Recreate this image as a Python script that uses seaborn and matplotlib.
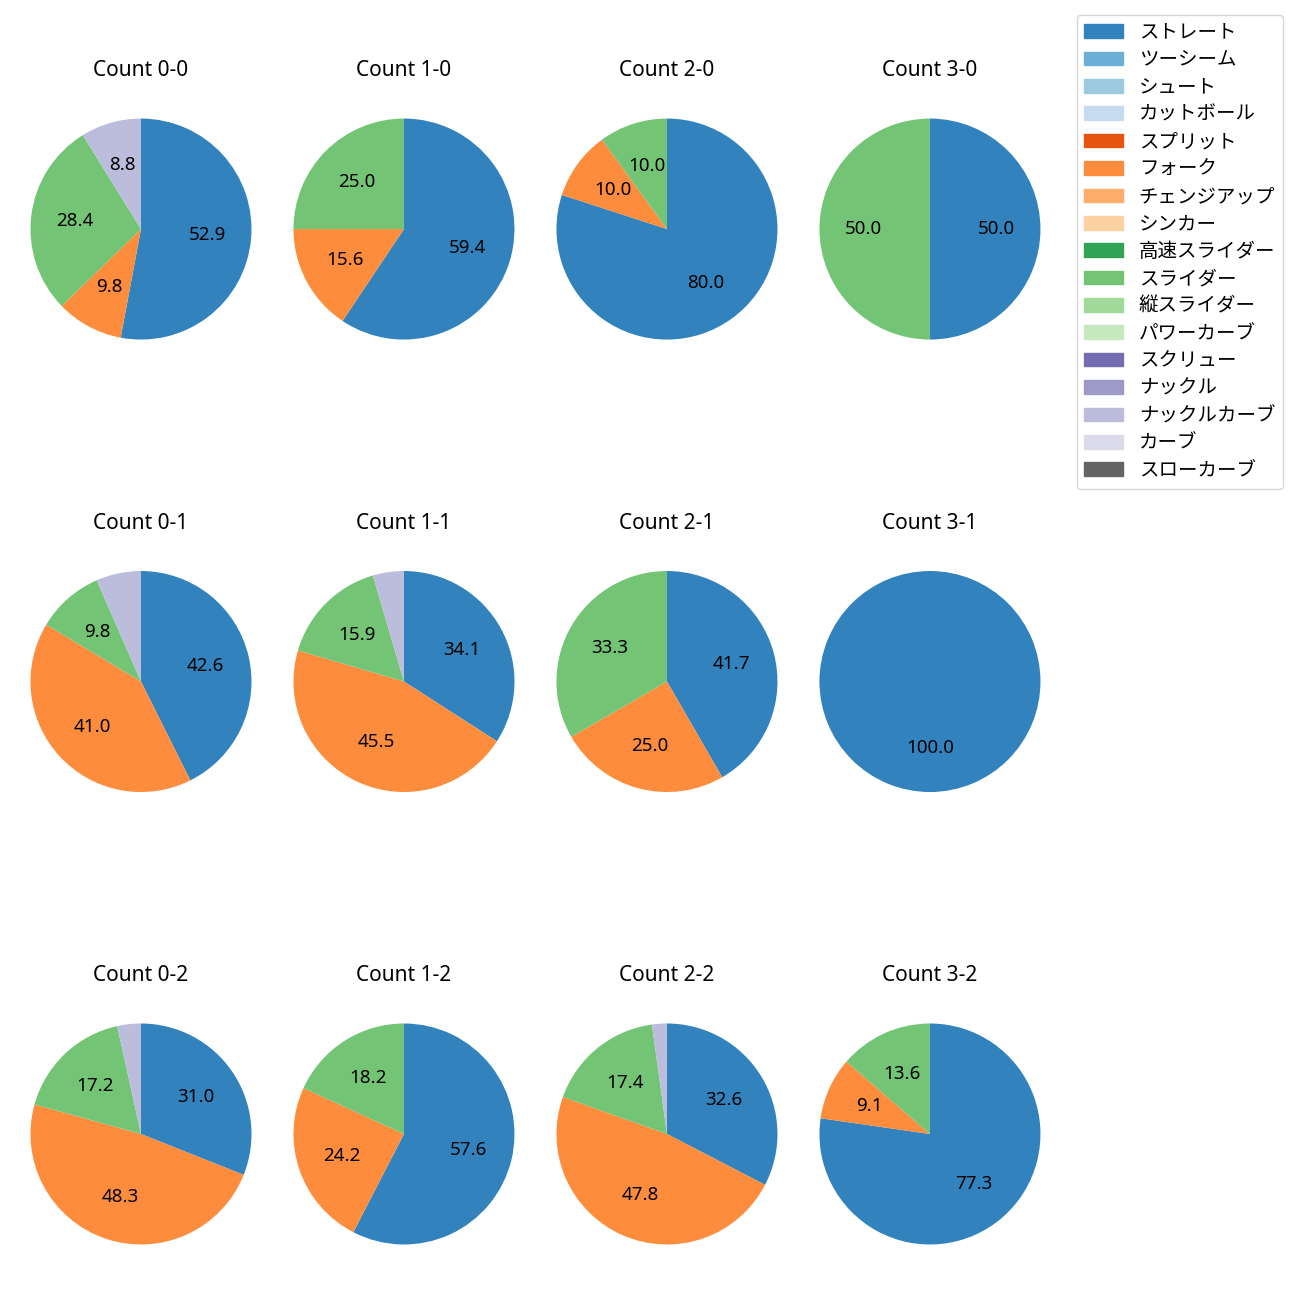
import matplotlib
matplotlib.use("Agg")
import matplotlib.pyplot as plt
import seaborn as sns
from matplotlib.patches import Patch

plt.rcParams['font.family'] = ['Noto Sans', 'Noto Sans CJK JP', 'DejaVu Sans']

# 球種(凡例の順)
pitch_names = ['ストレート', 'ツーシーム', 'シュート', 'カットボール', 'スプリット', 'フォーク',
               'チェンジアップ', 'シンカー', '高速スライダー', 'スライダー', '縦スライダー',
               'パワーカーブ', 'スクリュー', 'ナックル', 'ナックルカーブ', 'カーブ', 'スローカーブ']

count_labels = ['0-0', '1-0', '2-0', '3-0',
                '0-1', '1-1', '2-1', '3-1',
                '0-2', '1-2', '2-2', '3-2']

# カウント別の投球数
straight = [54, 19, 8, 1, 26, 15, 5, 1, 9, 19, 15, 17]
fork = [10, 5, 1, 0, 25, 20, 3, 0, 14, 8, 22, 2]
slider = [29, 8, 1, 1, 6, 7, 4, 0, 5, 6, 8, 3]
knuckle_curve = [9, 0, 0, 0, 4, 2, 0, 0, 1, 0, 1, 0]

palette = sns.color_palette('tab20c', 20)
colors = dict(zip(pitch_names, palette[:17]))

series = {'ストレート': straight, 'フォーク': fork,
          'スライダー': slider, 'ナックルカーブ': knuckle_curve}

fig, axes = plt.subplots(3, 4, figsize=(13, 13))
fig.subplots_adjust(left=0.0073, right=0.8165, bottom=0.0123, top=0.9392,
                    wspace=0.0, hspace=0.508)

for i, ax in enumerate(axes.flat):
    names = [n for n in series if series[n][i] > 0]
    vals = [series[n][i] for n in names]
    ax.pie(vals, colors=[colors[n] for n in names], startangle=90,
           counterclock=False,
           autopct=lambda p: f'{p:.1f}' if p >= 7 else '',
           textprops={'fontsize': 13.5})
    ax.set_xlim(-1.19, 1.19)
    ax.set_ylim(-1.19, 1.19)
    ax.set_title(f'Count {count_labels[i]}', fontsize=15, pad=15.5)

handles = [Patch(color=colors[n], label=n) for n in pitch_names]
fig.legend(handles=handles, loc='upper right', fontsize=14,
           bbox_to_anchor=(1283 / 1300, 1 - 15 / 1300), borderaxespad=0,
           labelspacing=0.38)
plt.savefig('out.png', dpi=100)
